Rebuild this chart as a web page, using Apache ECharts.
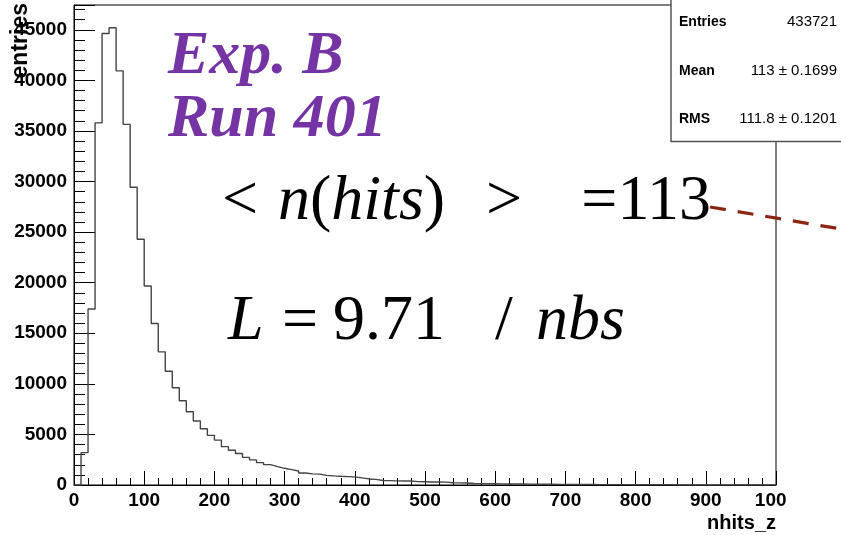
<!DOCTYPE html>
<html>
<head>
<meta charset="utf-8">
<script src="https://cdn.jsdelivr.net/npm/echarts@6/dist/echarts.min.js"></script>
<style>
html,body{margin:0;padding:0;background:#fff;}
#chart{width:841px;height:535px;}
</style>
</head>
<body>
<div id="chart"></div>
<script>
// Histogram nhits_z : 100 bins of width 10 between 0 and 1000
const binWidth = 10;
const binValues = [
  0, 3200, 17400, 35800, 44640, 45200, 40940, 35650, 29430, 24300,
  19670, 15970, 13160, 11240, 9620, 8330, 7240, 6330, 5560, 4910,
  4440, 3790, 3440, 3110, 2730, 2480, 2210, 2010, 1820, 1650,
  1520, 1390, 1190, 1100, 1080, 950, 900, 860, 830, 800,
  700, 600, 560, 450, 430, 410, 400, 390, 330, 320,
  300, 290, 280, 220, 210, 200, 150, 140, 140, 130,
  110, 105, 100, 95, 90, 80, 75, 70, 65, 60,
  55, 50, 48, 45, 42, 40, 38, 35, 33, 30,
  28, 26, 25, 22, 20, 0, 10, 0, 10, 0,
  0, 0, 0, 0, 0, 0, 0, 0, 0, 0
];
const xTicks = [0, 100, 200, 300, 400, 500, 600, 700, 800, 900, 1000];
const yTicks = [0, 5000, 10000, 15000, 20000, 25000, 30000, 35000, 40000, 45000];
const statsLabels = ['Entries', 'Mean', 'RMS'];
const statsValues = ['433721', '113 \u00b1 0.1699', '111.8 \u00b1 0.1201'];

const stepData = binValues.map((v, i) => [i * binWidth, v]);
stepData.push([binValues.length * binWidth, binValues[binValues.length - 1]]);

const chart = echarts.init(document.getElementById('chart'), null, {renderer: 'canvas'});
const sans = 'Liberation Sans, Arial, Helvetica, sans-serif';
const serif = 'Liberation Serif, Times New Roman, serif';
const F = 64;
const rich = {
  r: {font: F + 'px ' + serif, fill: '#000', color: '#000'},
  i: {font: 'italic ' + F + 'px ' + serif, fill: '#000', color: '#000'}
};
function tex(x, y, text, align) {
  return {type: 'text', x: x, y: y, z: 10,
    style: {text: text, textAlign: align || 'left', textVerticalAlign: 'middle', rich: rich}};
}

const statsGraphics = [];
const statsY = [22, 71, 119];
statsLabels.forEach((t, i) => {
  statsGraphics.push({type: 'text', x: 679, y: statsY[i], z: 20,
    style: {text: t, font: 'bold 14px ' + sans, fill: '#000', textAlign: 'left', textVerticalAlign: 'middle'}});
  statsGraphics.push({type: 'text', x: 837, y: statsY[i], z: 20,
    style: {text: statsValues[i], font: '15px ' + sans, fill: '#000', textAlign: 'right', textVerticalAlign: 'middle'}});
});

chart.setOption({
  animation: false,
  backgroundColor: '#fff',
  grid: {left: 74, right: 65, top: 5, bottom: 50, show: true, borderColor: '#000', borderWidth: 1, backgroundColor: 'transparent'},
  xAxis: {
    type: 'value', min: xTicks[0], max: xTicks[xTicks.length - 1], interval: 100,
    axisLine: {show: true, lineStyle: {color: '#000', width: 1}},
    axisTick: {show: true, inside: true, length: 14, lineStyle: {color: '#000'}},
    minorTick: {show: true, splitNumber: 5, length: 7, lineStyle: {color: '#000'}},
    splitLine: {show: false},
    axisLabel: {color: '#000', fontFamily: sans, fontWeight: 'bold', fontSize: 19, margin: 6,
      formatter: v => String(v)}
  },
  yAxis: {
    type: 'value', min: 0, max: 47450, interval: 5000,
    axisLine: {show: true, lineStyle: {color: '#000', width: 1}},
    axisTick: {show: true, inside: true, length: 21, lineStyle: {color: '#000'}},
    minorTick: {show: true, splitNumber: 5, length: 11, lineStyle: {color: '#000'}},
    splitLine: {show: false},
    axisLabel: {color: '#000', fontFamily: sans, fontWeight: 'bold', fontSize: 19, margin: 7,
      showMaxLabel: false,
      formatter: v => (yTicks.indexOf(v) >= 0 ? String(v) : '')}
  },
  series: [{
    type: 'line', step: 'end', data: stepData, symbol: 'none',
    lineStyle: {color: '#444', width: 1.4}, z: 3
  }],
  graphic: [
    // pad clipping of the last x label
    {type: 'rect', z: 10, shape: {x: 787, y: 487, width: 60, height: 24}, style: {fill: '#fff'}},
    // y axis title
    {type: 'text', x: 21, y: 3, rotation: Math.PI / 2, z: 10,
      style: {text: 'entries', font: 'bold 23px ' + sans, fill: '#000', textAlign: 'right', textVerticalAlign: 'middle'}},
    // x axis title
    {type: 'text', x: 776, y: 523, z: 10,
      style: {text: 'nhits_z', font: 'bold 20px ' + sans, fill: '#000', textAlign: 'right', textVerticalAlign: 'middle'}},
    // experiment labels
    {type: 'text', x: 168, y: 57, z: 10,
      style: {text: 'Exp. B', font: 'italic bold 62px ' + serif, fill: '#7434a4', textAlign: 'left', textVerticalAlign: 'middle'}},
    {type: 'text', x: 168, y: 120, z: 10,
      style: {text: 'Run 401', font: 'italic bold 62px ' + serif, fill: '#7434a4', textAlign: 'left', textVerticalAlign: 'middle'}},
    // formula line 1
    tex(222, 202, '{r|<}'),
    tex(278, 202, '{i|n}{r|(}{i|hits}{r|)}'),
    tex(486, 202, '{r|>}'),
    tex(711, 202, '{r|=113}', 'right'),
    // formula line 2
    tex(228, 322, '{i|L}'),
    tex(282, 322, '{r|=}'),
    tex(333, 322, '{r|9.71}'),
    tex(495, 322, '{r|/}'),
    tex(625, 322, '{i|nbs}', 'right'),
    // stats box
    {type: 'rect', z: 15, shape: {x: 671, y: -3, width: 180, height: 144.5},
      style: {fill: '#fff', stroke: '#555', lineWidth: 1.5}},
    ...statsGraphics,
    // dashed pointer line
    {type: 'line', z: 12, shape: {x1: 710, y1: 207, x2: 841, y2: 229},
      style: {stroke: '#8b2512', lineWidth: 3.2, lineDash: [16, 12]}}
  ]
});
</script>
</body>
</html>
